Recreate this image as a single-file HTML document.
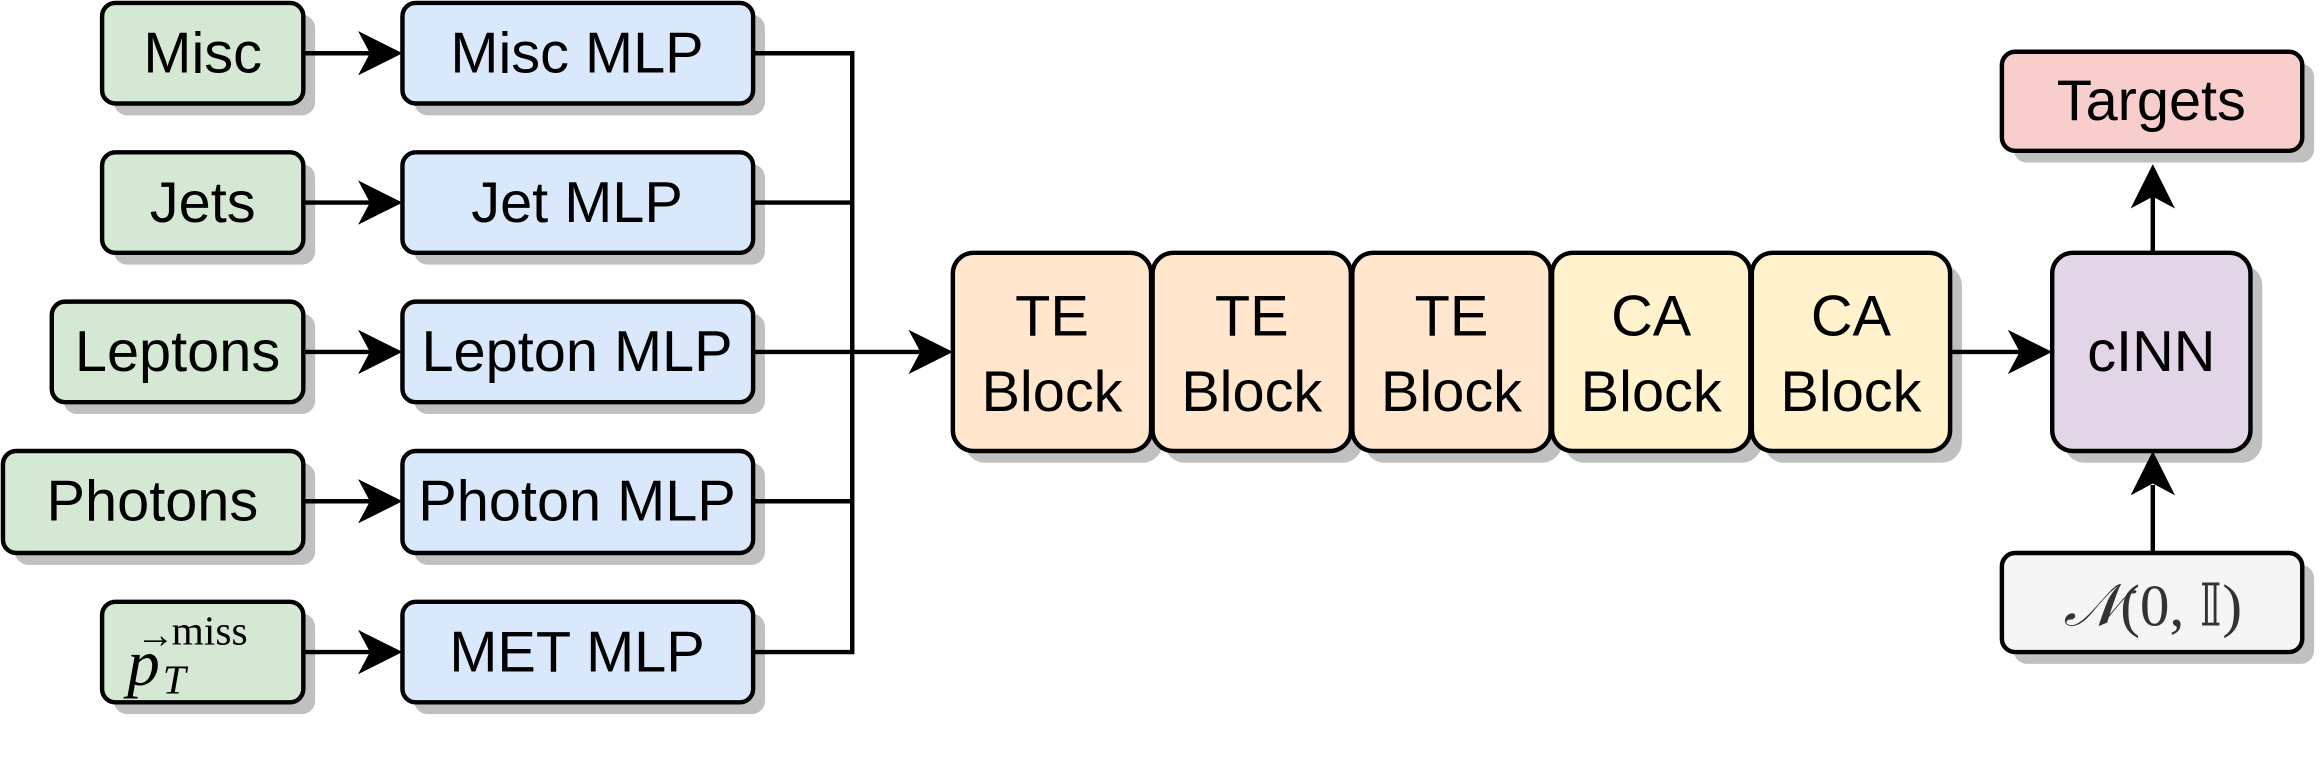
<!DOCTYPE html>
<html><head><meta charset="utf-8"><style>html,body{margin:0;padding:0;background:#fff;}svg{display:block}</style></head>
<body>
<svg width="2320" height="760" viewBox="0 0 1568 514" preserveAspectRatio="none" xmlns="http://www.w3.org/2000/svg">
<g font-family="Liberation Sans, sans-serif" font-size="39" text-anchor="middle">
<g fill="#c0c0c0">
<rect x="77" y="10" width="136" height="68" rx="9"/>
<rect x="280" y="10" width="237" height="68" rx="9"/>
<rect x="77" y="111" width="136" height="68" rx="9"/>
<rect x="280" y="111" width="237" height="68" rx="9"/>
<rect x="43" y="212" width="170" height="68" rx="9"/>
<rect x="280" y="212" width="237" height="68" rx="9"/>
<rect x="10" y="313" width="203" height="69" rx="9"/>
<rect x="280" y="313" width="237" height="69" rx="9"/>
<rect x="77" y="415" width="136" height="68" rx="9"/>
<rect x="280" y="415" width="237" height="68" rx="9"/>
<rect x="652" y="179" width="134" height="134" rx="14"/>
<rect x="787" y="179" width="134" height="134" rx="14"/>
<rect x="922" y="179" width="134" height="134" rx="14"/>
<rect x="1057" y="179" width="134" height="134" rx="14"/>
<rect x="1192" y="179" width="134" height="134" rx="14"/>
<rect x="1395" y="179" width="134" height="134" rx="14"/>
<rect x="1361" y="43" width="203" height="67" rx="9"/>
<rect x="1361" y="382" width="203" height="67" rx="9"/>
</g>
<g stroke="#000" stroke-width="3">
<rect x="69" y="2" width="136" height="68" rx="9" fill="#d5e8d4"/>
<rect x="272" y="2" width="237" height="68" rx="9" fill="#dae8fc"/>
<rect x="69" y="103" width="136" height="68" rx="9" fill="#d5e8d4"/>
<rect x="272" y="103" width="237" height="68" rx="9" fill="#dae8fc"/>
<rect x="35" y="204" width="170" height="68" rx="9" fill="#d5e8d4"/>
<rect x="272" y="204" width="237" height="68" rx="9" fill="#dae8fc"/>
<rect x="2" y="305" width="203" height="69" rx="9" fill="#d5e8d4"/>
<rect x="272" y="305" width="237" height="69" rx="9" fill="#dae8fc"/>
<rect x="69" y="407" width="136" height="68" rx="9" fill="#d5e8d4"/>
<rect x="272" y="407" width="237" height="68" rx="9" fill="#dae8fc"/>
<rect x="644" y="171" width="134" height="134" rx="14" fill="#ffe6cc"/>
<rect x="779" y="171" width="134" height="134" rx="14" fill="#ffe6cc"/>
<rect x="914" y="171" width="134" height="134" rx="14" fill="#ffe6cc"/>
<rect x="1049" y="171" width="134" height="134" rx="14" fill="#fff2cc"/>
<rect x="1184" y="171" width="134" height="134" rx="14" fill="#fff2cc"/>
<rect x="1387" y="171" width="134" height="134" rx="14" fill="#e1d5e7"/>
<rect x="1353" y="35" width="203" height="67" rx="9" fill="#f8cecc"/>
<rect x="1353" y="374" width="203" height="67" rx="9" fill="#f5f5f5"/>
<g fill="none">
<path d="M205 36H250M205 137H250M205 238H250M205 339H250M205 441H250"/>
<path d="M509 36H576V441H509M509 137H576M509 339H576M509 238H622"/>
<path d="M1318 238H1365"/>
<path d="M1455 171V132M1455 374V328"/>
</g>
</g>
<g fill="#000">
<path d="M272 36l-30-15 8 15-8 15z"/>
<path d="M272 137l-30-15 8 15-8 15z"/>
<path d="M272 238l-30-15 8 15-8 15z"/>
<path d="M272 339l-30-15 8 15-8 15z"/>
<path d="M272 441l-30-15 8 15-8 15z"/>
<path d="M644 238l-30-15 8 15-8 15z"/>
<path d="M1387 238l-30-15 8 15-8 15z"/>
<path d="M1455 111l-15 30 15-8 15 8z"/>
<path d="M1455 305l-15 30 15-8 15 8z"/>
</g>
<text x="137" y="49">Misc</text>
<text x="390" y="49">Misc MLP</text>
<text x="137" y="150">Jets</text>
<text x="390" y="150">Jet MLP</text>
<text x="120" y="251">Leptons</text>
<text x="390" y="251">Lepton MLP</text>
<text x="103" y="352">Photons</text>
<text x="390" y="352">Photon MLP</text>
<text x="390" y="454">MET MLP</text>
<text x="711" y="227">TE</text><text x="711" y="278">Block</text>
<text x="846" y="227">TE</text><text x="846" y="278">Block</text>
<text x="981" y="227">TE</text><text x="981" y="278">Block</text>
<text x="1116" y="227">CA</text><text x="1116" y="278">Block</text>
<text x="1251" y="227">CA</text><text x="1251" y="278">Block</text>
<text x="1454" y="251">cINN</text>
<text x="1454" y="81">Targets</text>
</g>
<g font-family="Liberation Serif, serif" fill="#000">
<text x="92" y="438" font-size="26">→</text>
<text x="116" y="436" font-size="28">miss</text>
<text x="86" y="463" font-size="44" font-style="italic">p</text>
<text x="110" y="469" font-size="28" font-style="italic">T</text>
<text x="1455" y="423" font-size="40" text-anchor="middle" fill="#333"><tspan font-style="italic">𝒩</tspan>(0, 𝕀)</text>
</g>
</svg>
</body></html>
